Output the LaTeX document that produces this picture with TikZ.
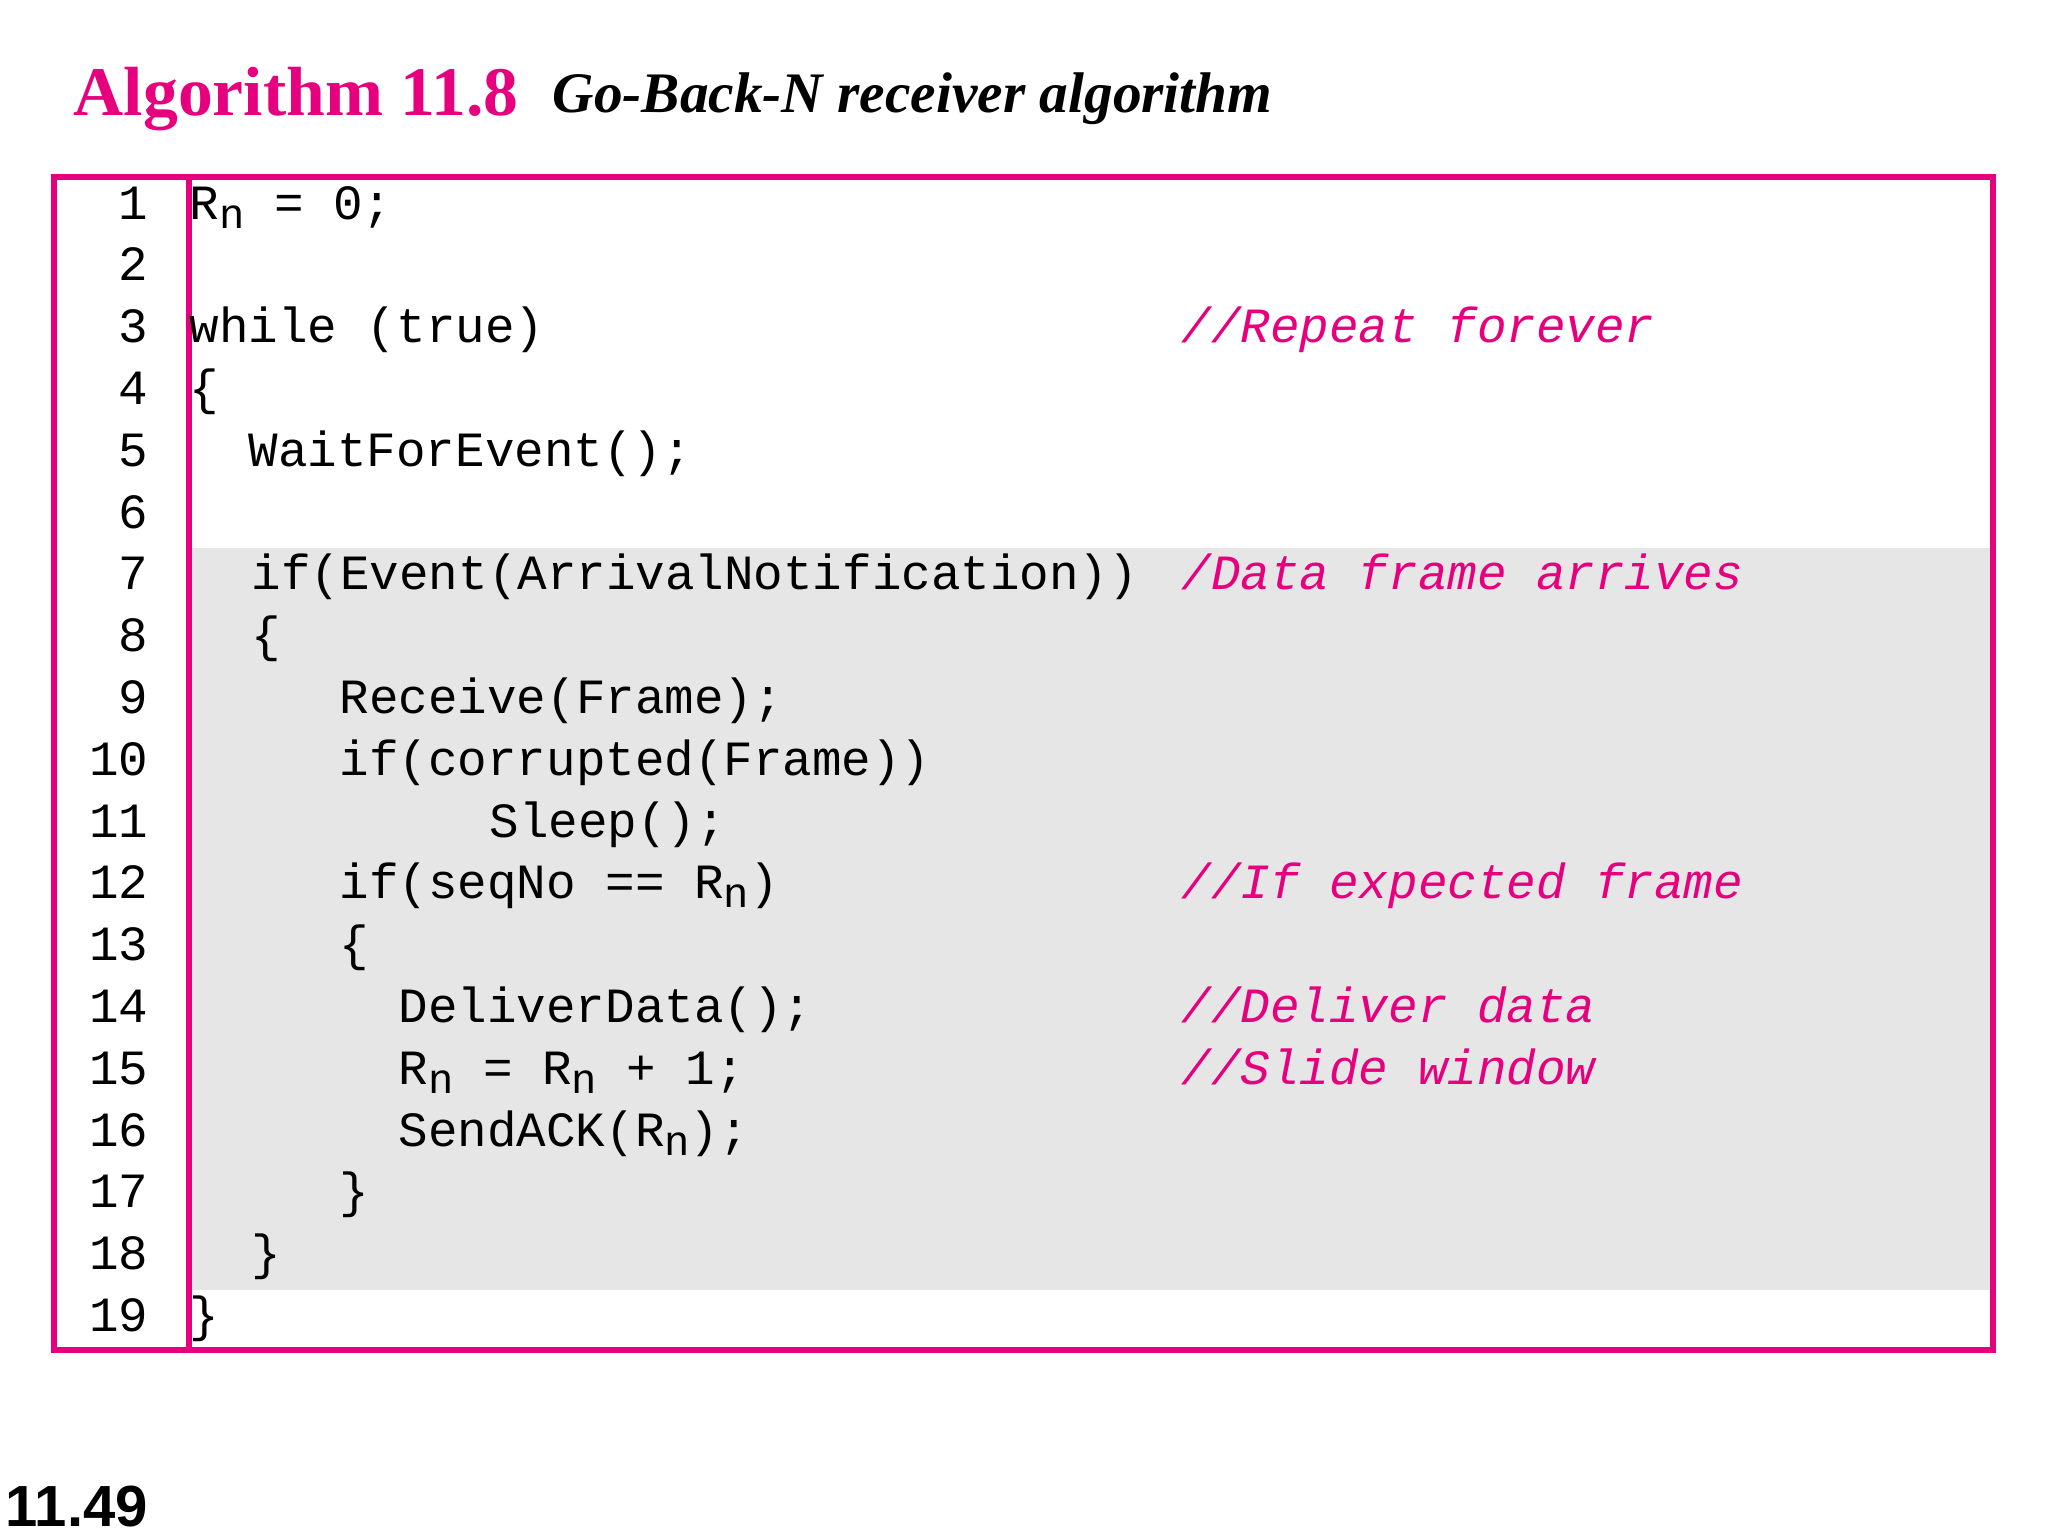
\documentclass[tikz,border=0pt]{standalone}
\usepackage{fontspec}
\setmainfont{Liberation Serif}
\setmonofont{Liberation Mono}
\setsansfont{Liberation Sans}
\definecolor{mag}{RGB}{230,0,126}
\definecolor{codegray}{RGB}{230,230,230}
\newcommand{\Rsub}{R\raisebox{-0.35ex}{\fontsize{12}{12}\selectfont n}}
\begin{document}
\begin{tikzpicture}[x=0.01cm,y=-0.01cm,
  code/.style={anchor=base west,inner sep=0,font=\fontsize{14}{16}\ttfamily},
  cmt/.style={code,text=mag,font=\fontsize{14}{16}\ttfamily\itshape},
  num/.style={anchor=base east,inner sep=0,font=\fontsize{14}{16}\ttfamily}]
\useasboundingbox (0,0) rectangle (2048,1536);
\fill[codegray] (189,548) rectangle (1993,1290);
\draw[mag,line width=1.6pt] (54,177) rectangle (1993,1350);
\draw[mag,line width=1.6pt] (189,177) -- (189,1350);
\node[anchor=base west,inner sep=0,text=mag,font=\fontsize{19.8}{24}\selectfont\bfseries] (t1) at (73,115) {Algorithm 11.8};
\node[anchor=base west,inner sep=0,font=\fontsize{16.3}{20}\selectfont\bfseries\itshape] (t2) at (552,112) {Go-Back-N receiver algorithm};
\foreach \i in {1,...,19}{
  \node[num] (n\i) at (149,{219+(\i-1)*61.8}) {\i};
}
\def\Y#1{{219+(#1-1)*61.8}}
\node[code] (c1) at (189,\Y{1}) {\Rsub{} = 0;};
\node[code] (c3) at (189,\Y{3}) {while (true)};
\node[code] (c4) at (189,\Y{4}) {\{};
\node[code] (c5) at (248,\Y{5}) {WaitForEvent();};
\node[code] (c7) at (251,\Y{7}) {if(Event(ArrivalNotification))};
\node[code] (c8) at (251,\Y{8}) {\{};
\node[code] (c9) at (339,\Y{9}) {Receive(Frame);};
\node[code] (c10) at (339,\Y{10}) {if(corrupted(Frame))};
\node[code] (c11) at (489,\Y{11}) {Sleep();};
\node[code] (c12) at (339,\Y{12}) {if(seqNo == \Rsub)};
\node[code] (c13) at (339,\Y{13}) {\{};
\node[code] (c14) at (398,\Y{14}) {DeliverData();};
\node[code] (c15) at (398,\Y{15}) {\Rsub{} = \Rsub{} + 1;};
\node[code] (c16) at (398,\Y{16}) {SendACK(\Rsub);};
\node[code] (c17) at (339,\Y{17}) {\}};
\node[code] (c18) at (251,\Y{18}) {\}};
\node[code] (c19) at (189,\Y{19}) {\}};
\node[cmt] (k3) at (1181,\Y{3}) {//Repeat forever};
\node[cmt] (k7) at (1181,\Y{7}) {/Data frame arrives};
\node[cmt] (k12) at (1181,\Y{12}) {//If expected frame};
\node[cmt] (k14) at (1181,\Y{14}) {//Deliver data};
\node[cmt] (k15) at (1181,\Y{15}) {//Slide window};
\node[anchor=base west,inner sep=0,font=\fontsize{16.5}{20}\sffamily\bfseries] (pg) at (5,1526) {11.49};
\end{tikzpicture}
\end{document}
